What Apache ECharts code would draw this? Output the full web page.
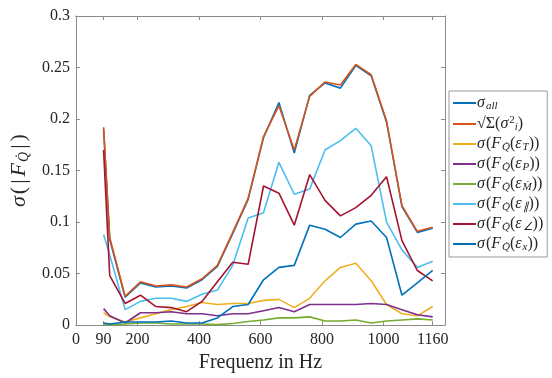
<!DOCTYPE html>
<html>
<head>
<meta charset="utf-8">
<script src="https://cdn.jsdelivr.net/npm/echarts@6/dist/echarts.min.js"></script>
<style>
  html, body { margin: 0; padding: 0; background: #fff; }
  #chart { width: 552px; height: 378px; }
</style>
</head>
<body>
<div id="chart"></div>
<script>
// frequencies (Hz)
var freqs = [90, 110, 160, 210, 260, 310, 360, 410, 460, 510, 560, 610, 660, 710, 760, 810, 860, 910, 960, 1010, 1060, 1110, 1160]
var xTicks = [0, 90, 200, 400, 600, 800, 1000, 1160]

var sigmaAll = [0.190, 0.083, 0.027, 0.041, 0.037, 0.038, 0.036, 0.044, 0.057, 0.089, 0.122, 0.182, 0.216, 0.167, 0.223, 0.235, 0.230, 0.252, 0.242, 0.197, 0.115, 0.090, 0.094]
var sqrtSum = [0.192, 0.085, 0.028, 0.042, 0.038, 0.039, 0.037, 0.045, 0.058, 0.090, 0.123, 0.183, 0.213, 0.170, 0.222, 0.236, 0.233, 0.253, 0.243, 0.198, 0.116, 0.091, 0.095]
var epsT = [0.012, 0.008, 0.003, 0.007, 0.011, 0.015, 0.018, 0.022, 0.020, 0.021, 0.021, 0.024, 0.025, 0.017, 0.026, 0.043, 0.056, 0.060, 0.043, 0.020, 0.011, 0.009, 0.018]
var epsP = [0.016, 0.009, 0.002, 0.012, 0.012, 0.013, 0.011, 0.011, 0.009, 0.011, 0.011, 0.014, 0.017, 0.013, 0.020, 0.020, 0.020, 0.020, 0.021, 0.020, 0.015, 0.010, 0.008]
var epsM = [0.001, 0.0005, 0.001, 0.002, 0.002, 0.001, 0.001, 0.001, 0.0005, 0.0015, 0.0035, 0.005, 0.007, 0.007, 0.008, 0.004, 0.004, 0.005, 0.002, 0.004, 0.005, 0.006, 0.005]
var epsPar = [0.088, 0.068, 0.015, 0.023, 0.026, 0.026, 0.023, 0.030, 0.034, 0.058, 0.104, 0.109, 0.158, 0.127, 0.132, 0.170, 0.179, 0.191, 0.174, 0.100, 0.073, 0.056, 0.062]
var epsAng = [0.170, 0.048, 0.021, 0.029, 0.018, 0.017, 0.013, 0.023, 0.042, 0.061, 0.059, 0.135, 0.128, 0.097, 0.146, 0.121, 0.106, 0.114, 0.126, 0.144, 0.082, 0.053, 0.043]
var epsX = [0.002, 0.001, 0.003, 0.003, 0.003, 0.004, 0.002, 0.002, 0.007, 0.018, 0.020, 0.044, 0.056, 0.058, 0.097, 0.093, 0.085, 0.098, 0.101, 0.085, 0.029, 0.041, 0.053]

var colors = ['#0072BD', '#D95319', '#EDB120', '#7E2F8E', '#77AC30', '#4DBEEE', '#A2142F', '#0072BD']
var font = 'Liberation Serif'
var axisColor = '#8a8a8a'
var textColor = '#262626'

var legendText = {
  all: '{i|σ}{sub|all}',
  sum: '√Σ({i|σ}{sup|2}{sub|i})',
  T: '{i|σ}({i|F}{sub|Q̇}({i|ε}{sub|T}))',
  P: '{i|σ}({i|F}{sub|Q̇}({i|ε}{sub|P}))',
  M: '{i|σ}({i|F}{sub|Q̇}({i|ε}{sub|Ṁ}))',
  par: '{i|σ}({i|F}{sub|Q̇}({i|ε}{sub|∥}))',
  ang: '{i|σ}({i|F}{sub|Q̇}({i|ε}{sub|∠}))',
  x: '{i|σ}({i|F}{sub|Q̇}({i|ε}{sub|x}))'
}

function pairs(vals) {
  return freqs.map(function (f, i) { return [f, vals[i]] })
}

function line(name, vals, idx) {
  return {
    name: name,
    type: 'line',
    data: pairs(vals),
    symbol: 'none',
    lineStyle: { width: 1.6, color: colors[idx] },
    itemStyle: { color: colors[idx] },
    z: 2 + idx
  }
}

var rich = {
  i: { fontStyle: 'italic', fontFamily: font, fontSize: 16, color: textColor, padding: [0, 1, 0, 0] },
  sub: { fontStyle: 'italic', fontFamily: font, fontSize: 11, color: textColor, verticalAlign: 'bottom', padding: [7, 0, 0, 0] },
  sup: { fontFamily: font, fontSize: 11, color: textColor, verticalAlign: 'top', padding: [0, 0, 7, 0] }
}

var chart = echarts.init(document.getElementById('chart'))
var option = {
  backgroundColor: '#fff',
  animation: false,
  color: colors,
  grid: { left: 75, right: 107, top: 16, bottom: 49, containLabel: false },
  legend: {
    orient: 'vertical',
    left: 449,
    top: 91,
    icon: 'rect',
    itemWidth: 23,
    itemHeight: 2,
    itemGap: 3,
    padding: [4, 4, 4, 4],
    borderColor: '#999',
    borderWidth: 1,
    backgroundColor: '#fff',
    textStyle: { fontFamily: font, fontSize: 16, color: textColor, rich: rich, padding: [0, 0, 0, -4] },
    formatter: function (n) { return legendText[n] },
    data: ['all', 'sum', 'T', 'P', 'M', 'par', 'ang', 'x']
  },
  xAxis: [{
    type: 'value',
    min: 0,
    max: 1200,
    name: 'Frequenz in Hz',
    nameLocation: 'middle',
    nameGap: 22,
    nameTextStyle: { fontFamily: font, fontSize: 20, color: textColor },
    axisLine: { onZero: false, lineStyle: { color: axisColor } },
    axisTick: { inside: true, length: 4, customValues: xTicks, lineStyle: { color: axisColor } },
    axisLabel: {
      customValues: xTicks, fontFamily: font, fontSize: 16, color: textColor, margin: 7,
      formatter: function (v) { return String(v) }
    },
    splitLine: { show: false }
  }, {
    type: 'value',
    position: 'top',
    min: 0,
    max: 1200,
    axisLine: { onZero: false, lineStyle: { color: axisColor } },
    axisTick: { inside: true, length: 4, customValues: xTicks, lineStyle: { color: axisColor } },
    axisLabel: { show: false },
    splitLine: { show: false }
  }],
  yAxis: [{
    type: 'value',
    min: 0,
    max: 0.3,
    interval: 0.05,
    name: '{i|σ}{p|(}{b||}{i|F}{sub|Q̇}{b||}{p|)}',
    nameLocation: 'middle',
    nameGap: 42,
    nameTextStyle: {
      fontFamily: font, fontSize: 22, color: textColor,
      rich: {
        i: { fontStyle: 'italic', fontFamily: font, fontSize: 22, color: textColor, padding: [0, 1, 0, 1] },
        p: { fontFamily: font, fontSize: 22, color: textColor, padding: [0, 1, 0, 1] },
        b: { fontFamily: font, fontSize: 22, color: textColor, padding: [0, 2, 0, 2] },
        sub: { fontStyle: 'italic', fontFamily: font, fontSize: 14, color: textColor, verticalAlign: 'bottom', padding: [10, 1, 0, 0] }
      }
    },
    axisLine: { show: true, onZero: false, lineStyle: { color: axisColor } },
    axisTick: { show: true, inside: true, length: 4, lineStyle: { color: axisColor } },
    axisLabel: { fontFamily: font, fontSize: 16, color: textColor, margin: 6 },
    splitLine: { show: false }
  }, {
    type: 'value',
    position: 'right',
    min: 0,
    max: 0.3,
    interval: 0.05,
    axisLine: { show: true, onZero: false, lineStyle: { color: axisColor } },
    axisTick: { show: true, inside: true, length: 4, lineStyle: { color: axisColor } },
    axisLabel: { show: false },
    splitLine: { show: false }
  }],
  series: [
    line('all', sigmaAll, 0),
    line('sum', sqrtSum, 1),
    line('T', epsT, 2),
    line('P', epsP, 3),
    line('M', epsM, 4),
    line('par', epsPar, 5),
    line('ang', epsAng, 6),
    line('x', epsX, 7)
  ]
}
chart.setOption(option)
</script>
</body>
</html>
